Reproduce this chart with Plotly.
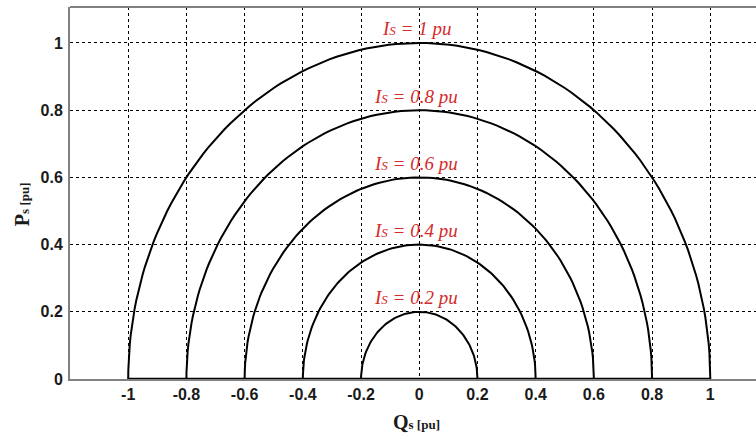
import numpy as np
import plotly.graph_objects as go

radii = [0.2, 0.4, 0.6, 0.8, 1.0]
labels = ["0.2", "0.4", "0.6", "0.8", "1"]
x_ticks = [-1, -0.8, -0.6, -0.4, -0.2, 0, 0.2, 0.4, 0.6, 0.8, 1]
x_tick_text = ["-1", "-0.8", "-0.6", "-0.4", "-0.2", "0", "0.2", "0.4", "0.6", "0.8", "1"]
y_ticks = [0, 0.2, 0.4, 0.6, 0.8, 1]
y_tick_text = ["0", "0.2", "0.4", "0.6", "0.8", "1"]

theta = np.linspace(0, np.pi, 121)

fig = go.Figure()
for r in radii:
    fig.add_trace(go.Scatter(
        x=r * np.cos(theta), y=r * np.sin(theta), mode="lines",
        line=dict(color="black", width=2), showlegend=False, hoverinfo="skip"))
fig.add_trace(go.Scatter(x=[-max(radii), max(radii)], y=[0, 0], mode="lines",
                         line=dict(color="black", width=2.5), showlegend=False,
                         hoverinfo="skip", cliponaxis=False))

for r, lab in zip(radii, labels):
    fig.add_annotation(
        x=0, y=r, xref="x", yref="y", yshift=14, xshift=-3, showarrow=False,
        text=f"<i>I<span style='font-size:13px'>S</span> = {lab} pu</i>",
        font=dict(family="Liberation Serif", size=19, color="#d42a2a"))

axis_common = dict(
    showgrid=True, gridcolor="black", gridwidth=1, griddash="3px,3px",
    zeroline=False, ticks="", showline=True, linecolor="#808080", linewidth=2,
    tickfont=dict(family="Liberation Sans", size=16, color="#1a1a1a", weight="bold"),
)

fig.update_xaxes(range=[-1.2, 1.157], tickvals=x_ticks, ticktext=x_tick_text,
                 mirror=False, **axis_common)
fig.update_yaxes(range=[0, 1.107], tickvals=y_ticks, ticktext=y_tick_text,
                 mirror=False, ticklabelstandoff=2, **axis_common)

fig.add_shape(type="line", xref="paper", yref="paper", x0=0, x1=1, y0=1, y1=1,
              line=dict(color="#808080", width=2))

fig.add_annotation(
    xref="paper", yref="paper", x=0.505, y=-0.08, showarrow=False,
    text="<b>Q<span style='font-size:13px'>s [pu]</span></b>",
    font=dict(family="Liberation Serif", size=20, color="#1a1a1a"), yanchor="top")
fig.add_annotation(
    xref="paper", yref="paper", x=-0.07, y=0.47, showarrow=False, textangle=-90,
    text="<b>P<span style='font-size:13px'>s [pu]</span></b>",
    font=dict(family="Liberation Serif", size=20, color="#1a1a1a"), xanchor="center")

fig.update_layout(
    width=756, height=441,
    margin=dict(l=70, r=0, t=7, b=62),
    plot_bgcolor="white", paper_bgcolor="white",
)

fig.write_html("out.html", config={"displayModeBar": False},
               post_script="document.body.style.margin='0px';")
